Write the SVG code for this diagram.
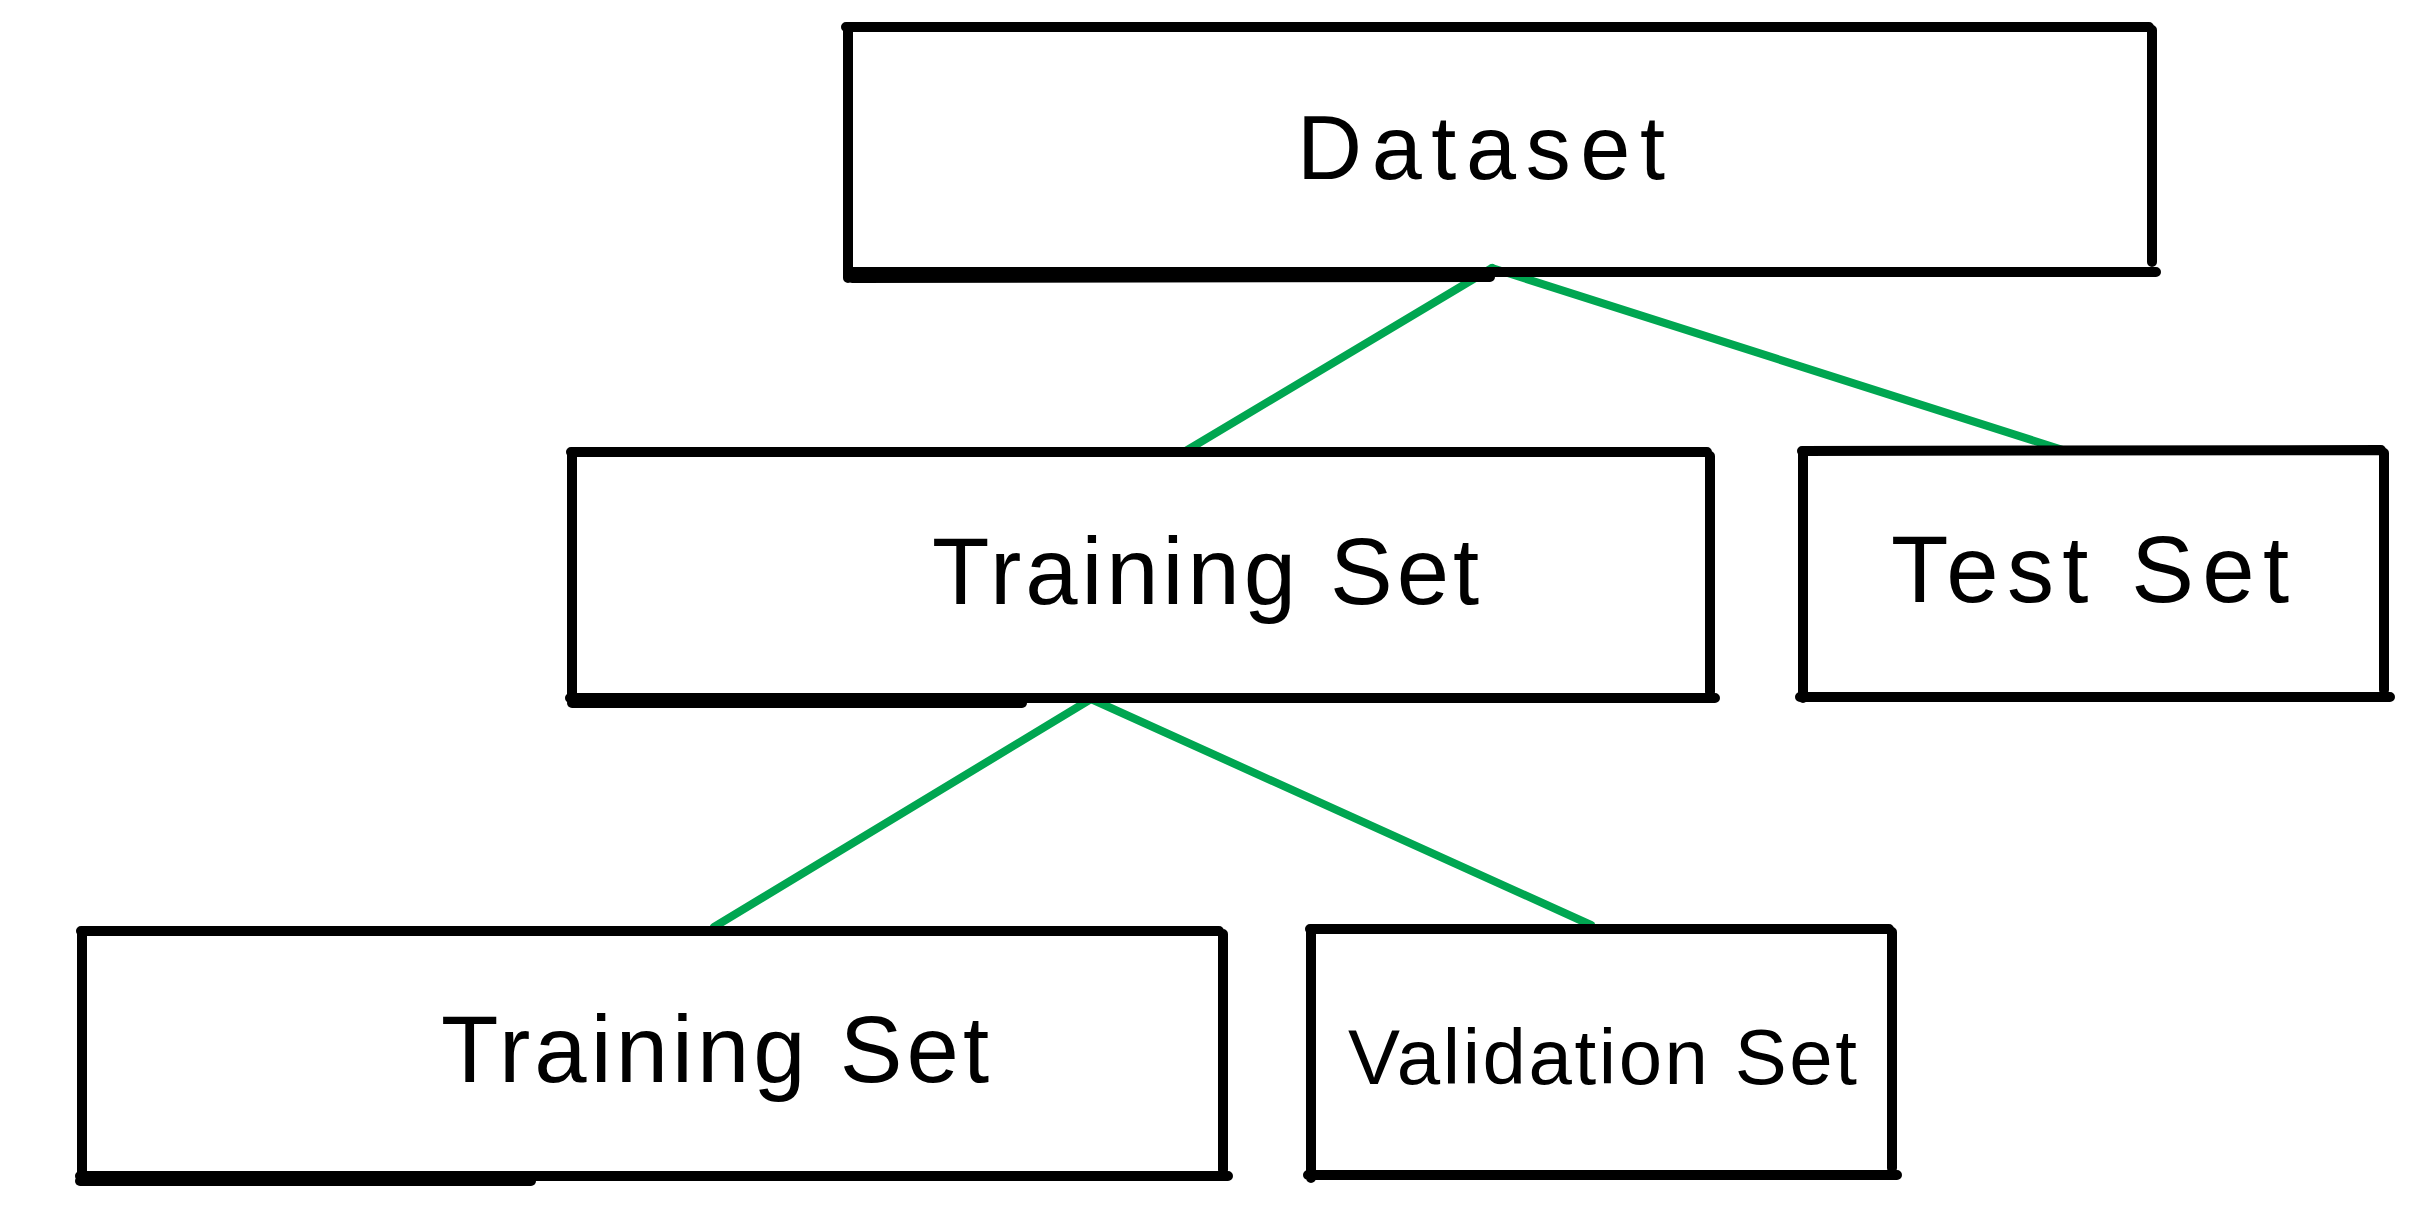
<svg xmlns="http://www.w3.org/2000/svg" width="2409" height="1209" viewBox="0 0 2409 1209">
<style>
.box{fill:none;stroke:#000;stroke-width:10;stroke-linecap:round;stroke-linejoin:round}
.edge{fill:none;stroke:#00a651;stroke-width:8;stroke-linecap:round}
.lbl{font-family:"Liberation Sans","DejaVu Sans",sans-serif;fill:#000}
</style>
<rect x="0" y="0" width="2409" height="1209" fill="#fff"/>
<g id="connectors">
<path class="edge" d="M1492 268 L1184 452"/>
<path class="edge" d="M1492 268 L2066 451"/>
<path class="edge" d="M1091 699 L714 927"/>
<path class="edge" d="M1091 699 L1591 925"/>
</g>
<g id="node-dataset">
<path class="box" d="M846 27 L2149 27 M2152 30 L2152 262 M848 27 L848 278 M850 272 L2156 272"/>
<path class="box" d="M852 278 L1490 277"/>
<text class="lbl" x="1297" y="179" font-size="90" textLength="368">Dataset</text>
</g>
<g id="node-training">
<path class="box" d="M571 452 L1707 452 M1710 456 L1710 692 M572 452 L572 700 M570 698 L1715 698"/>
<path class="box" d="M572 703 L1022 703"/>
<text class="lbl" x="932" y="604" font-size="94" textLength="547">Training Set</text>
</g>
<g id="node-test">
<path class="box" d="M1802 451 L2381 450 M2384 453 L2384 690 M1803 451 L1803 698 M1800 697 L2390 697"/>
<text class="lbl" x="1891" y="602" font-size="94" textLength="398">Test Set</text>
</g>
<g id="node-training2">
<path class="box" d="M81 931 L1219 931 M1223 934 L1223 1170 M82 931 L82 1180 M80 1176 L1228 1176"/>
<path class="box" d="M80 1181 L531 1181"/>
<text class="lbl" x="441" y="1082" font-size="94" textLength="548">Training Set</text>
</g>
<g id="node-validation">
<path class="box" d="M1310 929 L1889 929 M1892 932 L1892 1168 M1311 929 L1311 1178 M1308 1175 L1897 1175"/>
<text class="lbl" x="1348" y="1084" font-size="78" textLength="509">Validation Set</text>
</g>
</svg>
